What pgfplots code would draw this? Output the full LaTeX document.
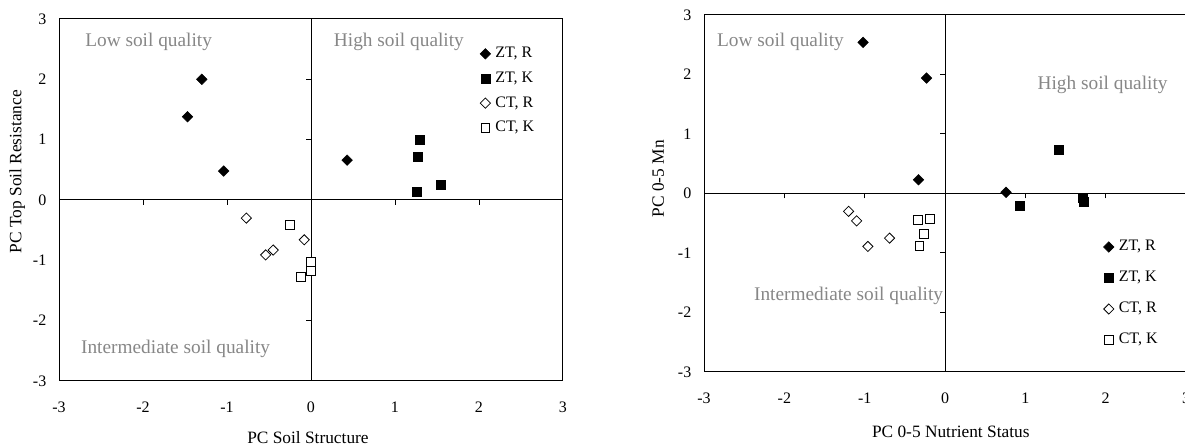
\documentclass[border=0pt]{standalone}
\usepackage{fontspec}
\setmainfont{Liberation Serif}
\usepackage{pgfplots}
\pgfplotsset{compat=1.18}

\definecolor{quad}{RGB}{135,135,135}
\newcommand{\lbl}{\fontsize{12}{14}\selectfont}
\newcommand{\albl}{\fontsize{13}{15}\selectfont}
\newcommand{\qlbl}{\fontsize{14.5}{17}\selectfont}

\tikzset{quadlbl/.style={anchor=west, inner sep=0pt, text=quad, font=\qlbl}}

\pgfplotsset{
  soil/.style={
    scale only axis,
    xmin=-3, xmax=3, ymin=-3, ymax=3,
    font=\lbl,
  },
  frame/.style={
    soil,
    axis line style={line width=0.75pt},
    major tick length=0pt,
    xtick={-3,-2,-1,0,1,2,3},
    ytick={-3,-2,-1,0,1,2,3},
    xticklabels={-3,-2,-1,0,1,2,3},
    yticklabels={-3,-2,-1,0,1,2,3},
    tick label style={font=\lbl},
    label style={font=\albl},
    xticklabel style={yshift=-12pt},
    yticklabel style={xshift=-6pt},
    legend cell align=left,
    legend image code/.code={\draw[#1] plot coordinates {(0pt,0pt)};},
    legend style={draw=none, fill=none, font=\lbl, inner sep=0pt,
      nodes={inner sep=1pt, text height=8pt, text depth=2pt},
      /tikz/every odd column/.append style={column sep=2.5pt}},
  },
  cross/.style={
    soil,
    axis lines=middle,
    every inner x axis line/.append style={-},
    every inner y axis line/.append style={-},
    axis line style={line width=0.75pt},
    xtick={-3,-2,-1,1,2,3}, ytick={-3,-2,-1,1,2,3},
    xticklabels={}, yticklabels={},
    tick align=outside,
    major tick length=3.75pt,
    tick style={line width=0.75pt, black},
  },
  zr/.style={only marks, mark=square*, mark size=2.8pt, mark options={rotate=45, fill=black, draw=black}},
  zk/.style={only marks, mark=square*, mark size=3.4pt, mark options={fill=black, draw=black}},
  cr/.style={only marks, mark=square*, mark size=2.7pt, mark options={rotate=45, fill=white, draw=black, line width=0.6pt}},
  ck/.style={only marks, mark=square*, mark size=3.3pt, mark options={fill=white, draw=black, line width=0.6pt}},
}

\begin{document}
\begin{tikzpicture}
% left chart: soil structure vs top soil resistance
\begin{axis}[cross, at={(44.25pt,48pt)}, anchor=south west, width=378pt, height=271.5pt]
\addplot[draw=none] coordinates {(0,0)};
\end{axis}
\begin{axis}[frame, at={(44.25pt,48pt)}, anchor=south west, width=378pt, height=271.5pt,
  xlabel={PC Soil Structure}, ylabel={PC Top Soil Resistance},
  xlabel style={at={(axis description cs:0.494,-0.155)}, anchor=center},
  ylabel style={at={(axis description cs:-0.083,0.34)}, anchor=west},
  legend style={at={(axis cs:2.01,2.56)}, anchor=north west, row sep=6.5pt}]
\addplot[zr] coordinates {(-1.30,2.00) (-1.47,1.38) (-1.04,0.48) (0.43,0.66)};
\addplot[zk] coordinates {(1.30,1.00) (1.27,0.71) (1.26,0.13) (1.55,0.25)};
\addplot[cr] coordinates {(-0.77,-0.30) (-0.54,-0.91) (-0.45,-0.83) (-0.08,-0.66)};
\addplot[ck] coordinates {(-0.25,-0.41) (-0.12,-1.28) (0.00,-1.02) (0.00,-1.17)};
\legend{{ZT, R}, {ZT, K}, {CT, R}, {CT, K}}
\node[quadlbl] at (axis cs:-2.69,2.62) {Low soil quality};
\node[quadlbl] at (axis cs:0.27,2.62) {High soil quality};
\node[quadlbl] at (axis cs:-2.74,-2.47) {Intermediate soil quality};
\end{axis}

% right chart: nutrient status vs Mn
\begin{axis}[cross, at={(528pt,54.75pt)}, anchor=south west, width=361.5pt, height=267.75pt]
\addplot[draw=none] coordinates {(0,0)};
\end{axis}
\begin{axis}[frame, at={(528pt,54.75pt)}, anchor=south west, width=361.5pt, height=267.75pt,
  xlabel={PC 0-5 Nutrient Status}, ylabel={PC 0-5 Mn},
  xlabel style={at={(axis description cs:0.512,-0.168)}, anchor=center},
  ylabel style={at={(axis description cs:-0.095,0.42)}, anchor=west},
  legend style={at={(axis cs:1.97,-0.76)}, anchor=north west, row sep=11.25pt}]
\addplot[zr] coordinates {(-1.02,2.54) (-0.23,1.94) (-0.33,0.23) (0.76,0.02)};
\addplot[zk] coordinates {(1.42,0.74) (0.93,-0.20) (1.71,-0.07) (1.73,-0.14)};
\addplot[cr] coordinates {(-1.20,-0.30) (-1.10,-0.46) (-0.96,-0.89) (-0.69,-0.75)};
\addplot[ck] coordinates {(-0.34,-0.44) (-0.19,-0.43) (-0.26,-0.68) (-0.32,-0.88)};
\legend{{ZT, R}, {ZT, K}, {CT, R}, {CT, K}}
\node[quadlbl] at (axis cs:-2.84,2.55) {Low soil quality};
\node[quadlbl] at (axis cs:1.15,1.82) {High soil quality};
\node[quadlbl] at (axis cs:-2.38,-1.72) {Intermediate soil quality};
\end{axis}

\pgfresetboundingbox
\path[use as bounding box] (0,0) rectangle (888.75pt,333.75pt);
\end{tikzpicture}
\end{document}
